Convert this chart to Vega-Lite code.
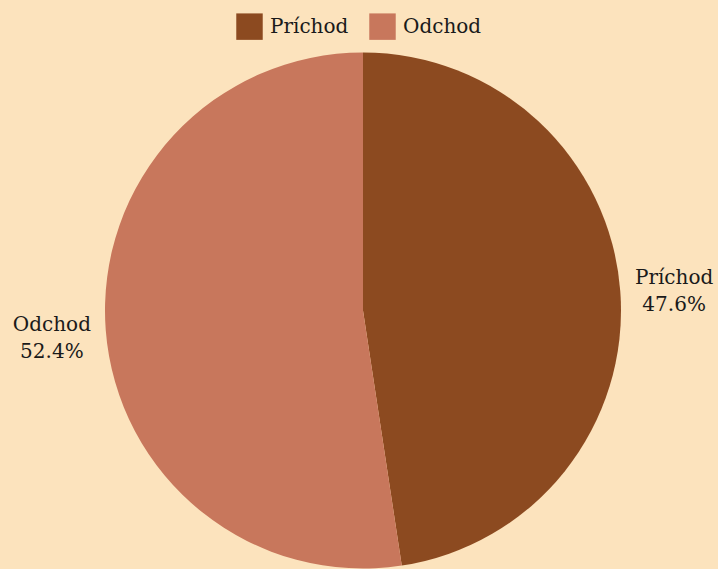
{
  "$schema": "https://vega.github.io/schema/vega-lite/v6.json",
  "autosize": "none",
  "width": 710,
  "height": 517,
  "padding": {"left": 8, "top": 52, "right": 0, "bottom": 0},
  "background": "#FCE3BD",
  "config": {"view": {"stroke": null}, "font": "DejaVu Serif"},
  "data": {"values": [
    {"category": "Príchod", "value": 47.6, "idx": 1},
    {"category": "Odchod", "value": 52.4, "idx": 2}
  ]},
  "transform": [
    {"calculate": "datum.category + '\\n' + format(datum.value, '.1f') + '%'", "as": "label"}
  ],
  "encoding": {
    "theta": {"field": "value", "type": "quantitative", "stack": true},
    "order": {"field": "idx", "type": "quantitative"}
  },
  "layer": [
    {
      "mark": {"type": "arc", "outerRadius": 258},
      "encoding": {
        "color": {
          "field": "category", "type": "nominal",
          "scale": {"domain": ["Príchod", "Odchod"], "range": ["#8C4A20", "#C8775C"]},
          "legend": {
            "title": null, "orient": "none", "direction": "horizontal",
            "legendX": 228, "legendY": -39,
            "symbolType": "square", "symbolSize": 700, "symbolStrokeWidth": 0,
            "labelFontSize": 20, "labelFont": "DejaVu Serif", "labelColor": "#1a1a1a",
            "columnPadding": 20, "labelOffset": 7
          }
        }
      }
    },
    {
      "mark": {"type": "text", "radius": 312, "fontSize": 20, "lineBreak": "\n", "lineHeight": 27, "dy": -9, "color": "#1a1a1a", "font": "DejaVu Serif"},
      "encoding": {"text": {"field": "label"}}
    }
  ]
}
